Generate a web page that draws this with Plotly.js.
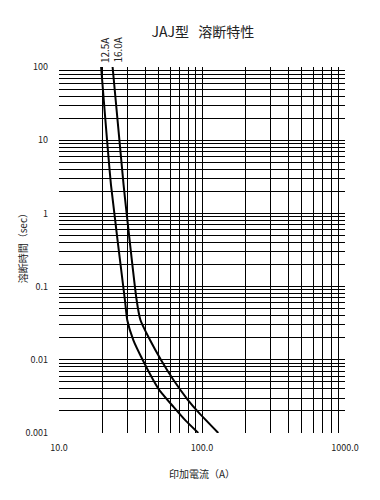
<!DOCTYPE html>
<html>
<head>
<meta charset="utf-8">
<script src="https://cdn.plot.ly/plotly-3.0.1.min.js"></script>
<style>html,body{margin:0;padding:0;background:#fff;}#chart{width:380px;height:500px;}</style>
</head>
<body>
<div id="chart"></div>
<script>
// Data
const seriesNames = ["12.5A", "16.0A"];
const current125 = [19.7, 23.1, 28.9, 30.0, 33.1, 38.5, 45.6, 50.3, 63.0, 76.0, 94.2];
const time125    = [100, 2.44, 0.0656, 0.0350, 0.0186, 0.00993, 0.00530, 0.00386, 0.00229, 0.00151, 0.001];
const current160 = [23.7, 28.3, 34.9, 37.1, 43.3, 51.7, 63.2, 79.8, 95.3, 130];
const time160    = [100, 2.44, 0.0656, 0.0350, 0.0186, 0.00993, 0.00530, 0.00282, 0.00188, 0.001];
const xTickVals  = [10, 100, 1000];
const xTickText  = ["10.0", "100.0", "1000.0"];
const yTickVals  = [100, 10, 1, 0.1, 0.01, 0.001];
const yTickText  = ["100", "10", "1", "0.1", "0.01", "0.001"];

const titleText = "JAJ型\u00a0\u00a0\u00a0溶断特性";
const xTitle = "印加電流（A）";
const yTitle = "溶断時間（sec）";

// grid values (1..9 x each decade)
function gridVals(lo, hi) {
  const out = [];
  for (let d = lo; d < hi; d++) for (let m = 1; m < 10; m++) out.push(m * Math.pow(10, d));
  out.push(Math.pow(10, hi));
  return out;
}
function labelsFor(vals, tv, tt) {
  return vals.map(v => {
    const i = tv.findIndex(t => Math.abs(t - v) / t < 1e-9);
    return i >= 0 ? tt[i] : "";
  });
}
const xg = gridVals(1, 3);
const yg = gridVals(-3, 2);

const font = "'Noto Sans CJK JP', 'Noto Sans', sans-serif";
const txt = "#222";

const traces = [
  {x: current125, y: time125, name: seriesNames[0], mode: "lines", line: {color: "#000", width: 2, shape: "spline", smoothing: 0.5}},
  {x: current160, y: time160, name: seriesNames[1], mode: "lines", line: {color: "#000", width: 2, shape: "spline", smoothing: 0.5}}
];

const layout = {
  width: 380, height: 500,
  margin: {l: 59, r: 35, t: 67, b: 67},
  paper_bgcolor: "#fff", plot_bgcolor: "#fff",
  showlegend: false,
  font: {family: font, color: txt, size: 9},
  title: {text: titleText, x: 0.534, xanchor: "center", y: 0.935, yanchor: "middle", font: {family: font, size: 14, color: txt}},
  xaxis: {
    type: "log", range: [1, 3],
    tickvals: xg, ticktext: labelsFor(xg, xTickVals, xTickText),
    showgrid: true, gridcolor: "#000", gridwidth: 1,
    ticks: "", zeroline: false, showline: false,
    ticklabelstandoff: 8,
    tickfont: {size: 9, family: font, color: txt},
    title: {text: xTitle, font: {size: 10, family: font, color: txt}, standoff: 17}
  },
  yaxis: {
    type: "log", range: [-3, 2],
    tickvals: yg, ticktext: labelsFor(yg, yTickVals, yTickText),
    showgrid: true, gridcolor: "#000", gridwidth: 1,
    ticks: "", zeroline: false, showline: false,
    ticklabelstandoff: 10,
    tickfont: {size: 9, family: font, color: txt}
  },
  annotations: [
    {x: Math.log10(current125[0]), y: 1, xref: "x", yref: "paper", text: seriesNames[0], textangle: -90, showarrow: false, xanchor: "center", yanchor: "bottom", xshift: 3, yshift: 2, font: {size: 10, family: font, color: txt}},
    {x: Math.log10(current160[0]), y: 1, xref: "x", yref: "paper", text: seriesNames[1], textangle: -90, showarrow: false, xanchor: "center", yanchor: "bottom", xshift: 4, yshift: 2, font: {size: 10, family: font, color: txt}},
    {x: 0, y: 0.51, xref: "paper", yref: "paper", text: yTitle, textangle: -90, showarrow: false, xanchor: "center", yanchor: "middle", xshift: -37, font: {size: 10, family: font, color: txt}}
  ]
};

Plotly.newPlot("chart", traces, layout, {staticPlot: true, displayModeBar: false});
</script>
</body>
</html>
